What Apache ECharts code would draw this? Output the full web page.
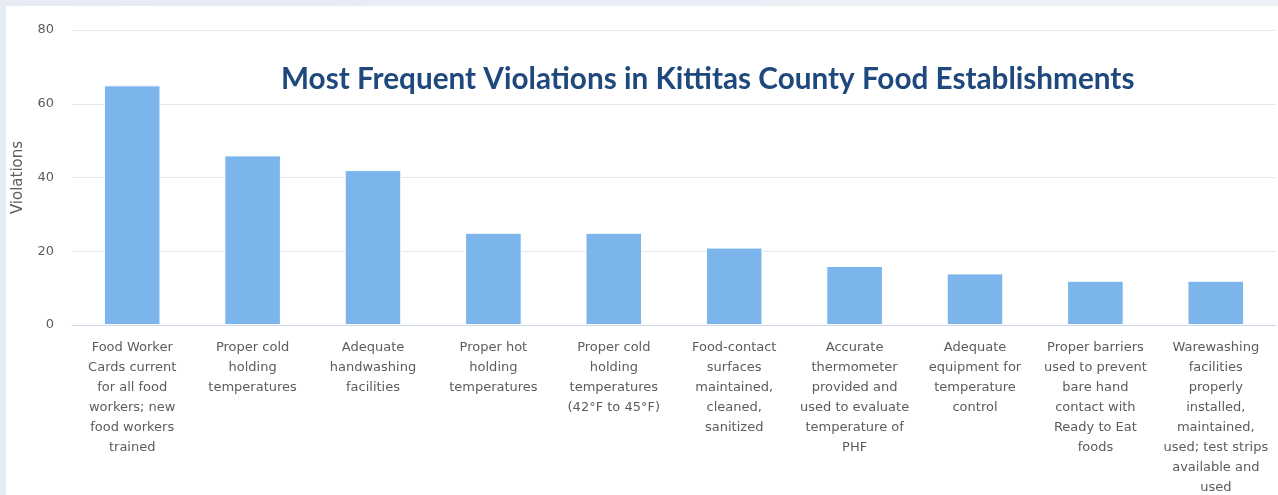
<!DOCTYPE html>
<html>
    <head>
        <meta charset="utf-8">
        <title>Most Frequent Violations</title>
        <script src="https://cdn.jsdelivr.net/npm/echarts@6/dist/echarts.min.js"></script>
        <style>
            html, body { margin: 0; padding: 0; }
            body { width: 1278px; height: 495px; background: linear-gradient(90deg, #e6ebf4, #eef2f8); overflow: hidden; }
            #chart1 { position: absolute; left: 6px; top: 6px; width: 1272px; height: 489px; background: #fff; }
        </style>
    </head>
    <body>
        <div id="chart1"></div>
        <script type="text/javascript">
            var categories = [
                'Food Worker\nCards current\nfor all food\nworkers; new\nfood workers\ntrained',
                'Proper cold\nholding\ntemperatures',
                'Adequate\nhandwashing\nfacilities',
                'Proper hot\nholding\ntemperatures',
                'Proper cold\nholding\ntemperatures\n(42\u00b0F to 45\u00b0F)',
                'Food-contact\nsurfaces\nmaintained,\ncleaned,\nsanitized',
                'Accurate\nthermometer\nprovided and\nused to evaluate\ntemperature of\nPHF',
                'Adequate\nequipment for\ntemperature\ncontrol',
                'Proper barriers\nused to prevent\nbare hand\ncontact with\nReady to Eat\nfoods',
                'Warewashing\nfacilities\nproperly\ninstalled,\nmaintained,\nused; test strips\navailable and\nused'
            ];
            var violations = [65, 46, 42, 25, 25, 21, 16, 14, 12, 12];
            var yTicks = [0, 20, 40, 60, 80];

            var myChart1 = echarts.init(document.getElementById('chart1'));
            myChart1.setOption({
                animation: false,
                title: {
                    text: 'Most Frequent Violations in Kittitas County Food Establishments',
                    left: 275,
                    top: 58,
                    padding: 0,
                    textStyle: {
                        fontFamily: 'Lato',
                        fontWeight: 'bold',
                        fontSize: 29.7,
                        color: '#1f497d'
                    }
                },
                grid: {
                    left: 66,
                    right: 2,
                    top: 24,
                    bottom: 170,
                    outerBoundsMode: 'none',
                    containLabel: false
                },
                xAxis: {
                    type: 'category',
                    data: categories,
                    axisLine: { lineStyle: { color: '#ccd6eb' } },
                    axisTick: { length: 12, lineStyle: { color: '#ccd6eb' } },
                    axisLabel: {
                        interval: 0,
                        margin: 13,
                        lineHeight: 20,
                        fontFamily: 'DejaVu Sans',
                        fontSize: 13,
                        color: '#5c5c5c'
                    }
                },
                yAxis: {
                    type: 'value',
                    min: yTicks[0],
                    max: yTicks[yTicks.length - 1],
                    interval: 20,
                    name: 'Violations',
                    nameLocation: 'middle',
                    nameGap: 46,
                    nameTextStyle: { fontFamily: 'DejaVu Sans', fontSize: 15, color: '#5c5c5c' },
                    axisLabel: { margin: 18, fontFamily: 'DejaVu Sans', fontSize: 13, color: '#5c5c5c' },
                    splitLine: { lineStyle: { color: '#e6e6e6' } }
                },
                series: [{
                    name: 'Violations',
                    type: 'bar',
                    data: violations,
                    barWidth: '47%',
                    itemStyle: { color: '#7cb5ec', borderColor: '#ffffff', borderWidth: 1 }
                }]
            });
        </script>
    </body>
</html>
